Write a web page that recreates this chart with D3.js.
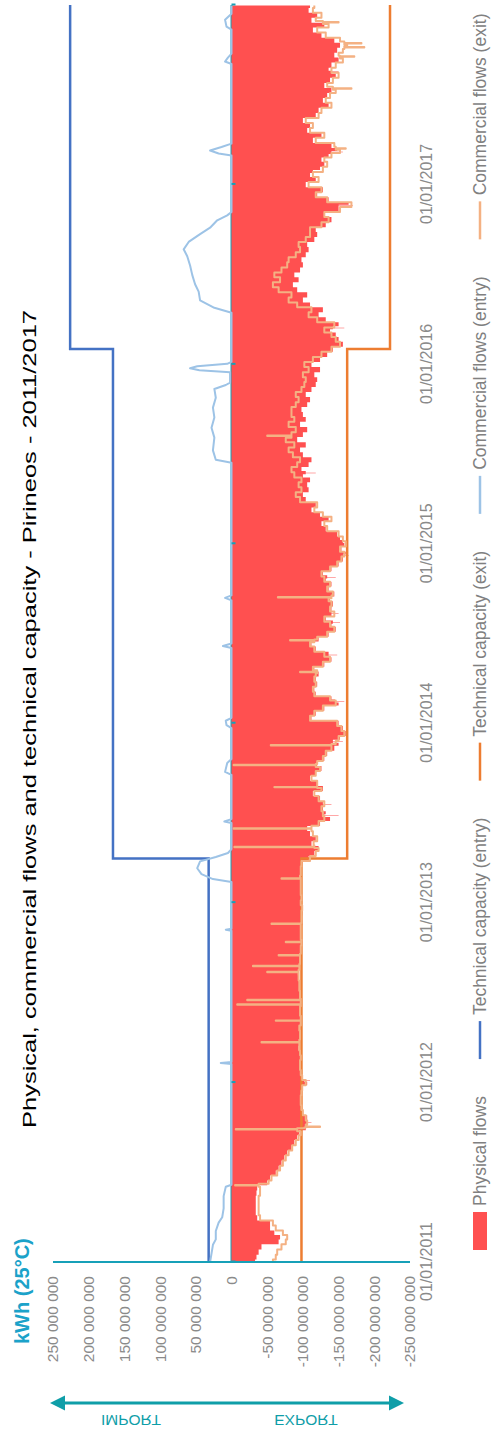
<!DOCTYPE html>
<html>
<head>
<meta charset="utf-8">
<script src="https://cdn.jsdelivr.net/npm/d3@7"></script>
<style>
  html, body { margin: 0; padding: 0; background: #ffffff; }
  svg { display: block; }
</style>
</head>
<body>
<svg id="chart" width="491" height="1434"></svg>
<script>
// Daily gas flows at the Pirineos interconnection, in millions of kWh (25 °C).
// Positive = import, negative = export. Regular samples are taken on the
// 1st, 11th and 21st of every month (three per month, 36 per year).
const years = [2011, 2012, 2013, 2014, 2015, 2016, 2017];
const sampleDays = [1, 11, 21];

const physical2011 = [-33,-35,-38, -42,-66,-68, -60,-54,-54, -36,-34,-34, -34,-34,-35, -36,-50,-54, -62,-66,-70, -74,-78,-84, -88,-92,-95, -104,-108,-106, -100,-97,-96, -96,-97,-98];
const physical2012 = [-106,-100,-98, -97,-96,-98, -96,-94,-95, -97,-96,-95, -98,-97,-96, -97,-98,-96, -96,-95,-96, -94,-93,-95, -96,-97,-98, -97,-99,-98, -98,-97,-99, -98,-99,-100];
const physical2013 = [-98,-99,-97, -97,-98,-96, -98,-97,-99, -108,-116,-122, -112,-118,-110, -106,-124,-138, -132,-128,-134, -124,-114,-128, -120,-110,-118, -126,-120,-130, -134,-144,-150, -152,-160,-156];
const physical2014 = [-150,-112,-118, -130,-150,-140, -118,-116,-120, -118,-122,-116, -130,-140,-132, -118,-112,-122, -136,-146,-140, -132,-146,-140, -142,-138,-144, -136,-140,-132, -128,-140,-150, -156,-160,-154];
const physical2015 = [-158,-152,-148, -132,-126,-136, -124,-112,-118, -104,-100,-108, -106,-110,-100, -98,-108,-112, -100,-96,-104, -92,-100,-106, -96,-104,-100, -98,-106,-110, -104,-112,-118, -120,-116,-124];
const physical2016 = [-112,-124,-134, -142,-156,-150, -146,-138,-150, -132,-122,-128, -110,-100,-106, -92,-86,-94, -88,-96,-100, -98,-104,-108, -106,-116,-120, -118,-132,-140, -130,-150,-164, -136,-120,-128];
const physical2017 = [-104,-118,-110, -124,-130,-126, -136,-148,-140, -114,-126,-106, -110,-100,-118, -122,-136,-128, -134,-140,-130, -138,-146,-136, -140,-150,-144, -148,-152,-144, -126,-114,-130, -112,-120,-108];
const physicalLast = -110; // 31/12/2017

// Single-day peaks of the physical flow (day, value, level around it)
const physSpikeDates  = ["2011-10-12","2012-01-05","2013-06-28","2013-07-20","2013-11-25","2014-02-14","2014-05-20","2014-07-25","2014-08-12","2014-10-25","2014-12-08","2015-01-05","2015-05-25","2016-03-15","2016-11-19","2017-01-28","2017-03-08","2017-08-18"];
const physSpikeValues = [-112,-110,-150,-140,-156,-158,-148,-152,-150,-146,-164,-162,-118,-158,-170,-128,-156,-150];
const physSpikeBase   = [-106,-102,-130,-128,-142,-145,-136,-142,-140,-134,-156,-156,-104,-142,-150,-114,-140,-140];

const exit2011 = [-58,-62,-64, -70,-76,-78, -72,-62,-58, -40,-38,-38, -38,-38,-40, -40,-52,-56, -64,-68,-72, -76,-80,-85, -90,-94,-97, -102,-106,-104, -100,-98,-97, -97,-98,-99];
const exit2012 = [-104,-99,-97, -96,-96,-97, -96,-95,-95, -96,-96,-95, -97,-97,-96, -96,-97,-96, -96,-95,-95, -94,-94,-95, -96,-96,-97, -97,-98,-97, -97,-97,-98, -98,-98,-99];
const exit2013 = [-97,-98,-97, -97,-97,-96, -97,-97,-98, -110,-118,-122, -115,-120,-114, -110,-122,-130, -128,-126,-130, -122,-116,-126, -120,-112,-118, -124,-120,-128, -132,-140,-146, -150,-158,-154];
const exit2014 = [-148,-110,-116, -128,-146,-138, -116,-114,-118, -116,-118,-114, -128,-138,-130, -116,-110,-120, -134,-144,-138, -130,-144,-138, -140,-136,-142, -134,-138,-130, -126,-138,-148, -154,-158,-152];
const exit2015 = [-160,-156,-150, -134,-130,-140, -128,-116,-120, -96,-90,-98, -94,-98,-88, -84,-92,-96, -86,-80,-88, -76,-84,-90, -80,-88,-84, -84,-90,-94, -90,-98,-102, -104,-100,-108];
const exit2016 = [-102,-114,-126, -140,-152,-146, -140,-130,-144, -120,-108,-112, -92,-80,-84, -66,-58,-68, -60,-70,-78, -80,-90,-96, -94,-104,-110, -110,-126,-136, -130,-152,-168, -134,-118,-126];
const exit2017 = [-108,-122,-114, -128,-134,-130, -140,-152,-144, -118,-130,-110, -114,-104,-122, -126,-140,-132, -138,-146,-134, -142,-150,-140, -146,-156,-150, -156,-162,-152, -132,-120,-136, -118,-126,-114];
const exitLast = -116; // 31/12/2017

// Single-day moves of the commercial exit nominations (day, value, level around it)
const exitSpikeDates  = ["2011-06-06","2011-09-28","2011-10-03","2012-03-23","2012-05-06","2012-06-08","2012-06-17","2012-08-13","2012-08-25","2012-09-16","2012-10-13","2012-11-19","2013-02-19","2013-04-24","2013-06-01","2013-08-24","2013-10-08","2013-11-17","2014-04-15","2014-06-19","2014-09-14","2015-08-09","2017-03-15","2017-07-15","2017-09-18","2017-10-07","2017-10-15","2017-11-27"];
const exitSpikeValues = [-5,-6,-124,-42,-62,-8,-22,-50,-30,-66,-76,-56,-70,-4,-3,-60,-3,-55,-96,-82,-65,-50,-160,-168,-172,-186,-182,-150];
const exitSpikeBase   = [-38,-92,-104,-95,-97,-97,-97,-94,-95,-96,-98,-97,-97,-116,-112,-120,-118,-140,-120,-116,-140,-84,-146,-142,-152,-158,-158,-128];

// Commercial entry nominations (change points)
const entryDates = [
  "2011-01-01","2011-01-18","2011-02-05","2011-02-16","2011-03-05","2011-03-22","2011-04-02","2011-04-20","2011-05-15","2011-06-03","2011-06-07",
  "2012-02-08","2012-02-10","2012-02-12","2012-11-05","2012-11-07","2012-11-09",
  "2013-02-12","2013-02-18","2013-02-28","2013-03-12","2013-03-26","2013-04-04","2013-04-12","2013-04-20",
  "2013-06-12","2013-06-15","2013-06-20","2013-09-18","2013-09-24","2013-10-12","2013-10-20",
  "2013-12-22","2013-12-28","2014-01-06","2014-01-12","2014-06-03","2014-06-07","2014-06-12",
  "2014-09-08","2014-09-13","2014-09-18",
  "2015-06-15","2015-06-21","2015-07-10","2015-08-05","2015-08-25","2015-09-15","2015-10-05","2015-10-25","2015-11-12","2015-11-20","2015-11-25",
  "2015-12-16","2015-12-20","2015-12-24","2015-12-28","2016-01-02","2016-01-06",
  "2016-04-15","2016-04-25","2016-05-10","2016-05-28","2016-06-12","2016-07-01","2016-07-20","2016-08-08","2016-08-22","2016-09-06","2016-09-22","2016-10-05","2016-10-20","2016-10-30","2016-11-06",
  "2017-03-01","2017-03-05","2017-03-11","2017-03-18","2017-03-25",
  "2017-09-03","2017-09-08","2017-09-16","2017-09-24","2017-11-12","2017-11-18","2017-12-02","2017-12-14","2017-12-31"
];
const entryValues = [
  30,28,26,22,22,18,13,11,11,8,0,
  0,15,0,0,8,0,
  0,26,42,48,44,22,5,0,
  0,10,0,0,9,6,0,
  0,7,8,0,0,12,0,
  0,9,0,
  0,22,26,24,28,24,26,22,24,8,2,
  2,45,58,48,6,0,
  0,24,44,46,51,55,58,62,67,60,44,30,20,6,0,
  0,18,30,14,0,
  0,9,5,0,0,7,9,0,0
];

// Technical (firm) capacity, stepwise
const capacityDates = ["2011-01-01", "2013-04-01", "2016-02-01"];
const capacityEntry = [32, 166, 226];
const capacityExit  = [-98, -162, -222];

const valueTicks = [250, 200, 150, 100, 50, 0, -50, -100, -150, -200, -250];
const yearTicks = ["2011-01-01","2012-01-01","2013-01-01","2014-01-01","2015-01-01","2016-01-01","2017-01-01","2018-01-01"];
const dateLabels = ["2011-01-01","2012-01-01","2013-01-01","2014-01-01","2015-01-01","2016-01-01","2017-01-01"];

const legendLabels = ["Physical flows", "Technical capacity (entry)", "Technical capacity (exit)", "Commercial flows (entry)", "Commercial flows (exit)"];
const colors = {
  physical: "#ff5050",
  capEntry: "#4472c4",
  capExit: "#ed7d31",
  comEntry: "#9dc3e6",
  comExit: "#f4b183",
  axis: "#17a0b8",
  unit: "#1ba2c9",
  arrow: "#0f9ea8",
  label: "#8a8a8a"
};
const FONT = "'Liberation Sans', Arial, Helvetica, sans-serif";
const NARROW = "'Liberation Sans Narrow', 'Arial Narrow', 'Liberation Sans', Arial, sans-serif";

// ---------------------------------------------------------------------------
const parse = d3.utcParse("%Y-%m-%d");
const M = 1e6;

function regularSeries(yearArrays, lastValue) {
  const pts = [];
  years.forEach((yr, i) => {
    yearArrays[i].forEach((v, k) => {
      pts.push({ date: new Date(Date.UTC(yr, Math.floor(k / 3), sampleDays[k % 3])), value: v * M });
    });
  });
  pts.push({ date: parse("2017-12-31"), value: lastValue * M });
  return pts;
}

// Insert one-day moves into a regular series
function withSpikes(pts, dates, values, base) {
  const days = dates.map(parse);
  const out = pts.filter(p => !days.some(s => Math.abs(p.date - s) <= 864e5 * 1.5));
  days.forEach((d, i) => {
    out.push({ date: d3.utcDay.offset(d, -1), value: base[i] * M });
    out.push({ date: d, value: values[i] * M });
    out.push({ date: d3.utcDay.offset(d, 1), value: base[i] * M });
  });
  return out.sort((a, b) => a.date - b.date);
}

const physicalData = withSpikes(
  regularSeries([physical2011, physical2012, physical2013, physical2014, physical2015, physical2016, physical2017], physicalLast),
  physSpikeDates, physSpikeValues, physSpikeBase);

const exitData = withSpikes(
  regularSeries([exit2011, exit2012, exit2013, exit2014, exit2015, exit2016, exit2017], exitLast),
  exitSpikeDates, exitSpikeValues, exitSpikeBase);

const entryData = entryDates.map((d, i) => ({ date: parse(d), value: entryValues[i] * M }));

const endDate = parse("2018-01-01");
function stepData(values) {
  const pts = capacityDates.map((d, i) => ({ date: parse(d), value: values[i] * M }));
  pts.push({ date: endDate, value: values[values.length - 1] * M });
  return pts;
}

// ---------------------------------------------------------------------------
// The chart is laid out landscape (W x H) and turned a quarter turn
// counter-clockwise to fit the portrait page.
const W = 1434, H = 491;
const svg = d3.select("#chart");
const g = svg.append("g").attr("transform", `translate(0,${W}) rotate(-90)`);

const plotLeft = 172, plotRight = 1429;
const x = d3.scaleUtc().domain([parse("2011-01-01"), endDate]).range([plotLeft, plotRight]);
const y = d3.scaleLinear().domain([250 * M, -250 * M]).range([53, 410]);

const locale = d3.formatLocale({ decimal: ",", thousands: " ", grouping: [3], currency: ["", " €"], minus: "-" });
const fmtValue = locale.format(",.0f");
const fmtDate = d3.utcFormat("%d/%m/%Y");

// Title
g.append("text")
  .attr("x", 715).attr("y", 36)
  .attr("text-anchor", "middle")
  .attr("font-family", NARROW)
  .attr("font-size", 19)
  .attr("fill", "#000")
  .attr("textLength", 818)
  .attr("lengthAdjust", "spacingAndGlyphs")
  .text("Physical, commercial flows and technical capacity - Pirineos - 2011/2017");

// Unit
g.append("text")
  .attr("x", 90).attr("y", 29)
  .attr("font-family", FONT)
  .attr("font-weight", "bold")
  .attr("font-size", 20)
  .attr("fill", colors.unit)
  .text("kWh (25°C)");

// Zero line (date axis)
g.append("line")
  .attr("x1", plotLeft).attr("x2", plotRight)
  .attr("y1", y(0)).attr("y2", y(0))
  .attr("stroke", colors.axis).attr("stroke-width", 2);

// Physical flows area (held from one reading to the next, like daily data)
const area = d3.area()
  .x(d => x(d.date))
  .y0(y(0))
  .y1(d => y(d.value))
  .curve(d3.curveStep);
g.append("path")
  .datum(physicalData)
  .attr("d", area)
  .attr("fill", colors.physical);

// Technical capacity lines
const stepLine = d3.line().x(d => x(d.date)).y(d => y(d.value)).curve(d3.curveStepAfter);
g.append("path").datum(stepData(capacityEntry)).attr("d", stepLine)
  .attr("fill", "none").attr("stroke", colors.capEntry).attr("stroke-width", 2.5);
g.append("path").datum(stepData(capacityExit)).attr("d", stepLine)
  .attr("fill", "none").attr("stroke", colors.capExit).attr("stroke-width", 2.5);

// Commercial flows
const heldLine = d3.line().x(d => x(d.date)).y(d => y(d.value)).curve(d3.curveStep);
const line = d3.line().x(d => x(d.date)).y(d => y(d.value));
g.append("path").datum(exitData).attr("d", heldLine)
  .attr("fill", "none").attr("stroke", colors.comExit).attr("stroke-width", 2)
  .attr("stroke-linejoin", "round");
g.append("path").datum(entryData).attr("d", line)
  .attr("fill", "none").attr("stroke", colors.comEntry).attr("stroke-width", 2)
  .attr("stroke-linejoin", "round");

// Year tick marks on the zero line
const tickAxis = d3.axisBottom(x).tickValues(yearTicks.map(parse)).tickSize(4).tickFormat("");
const ta = g.append("g").attr("transform", `translate(0,${y(0)})`).call(tickAxis);
ta.select(".domain").remove();
ta.selectAll(".tick line").attr("stroke", colors.axis).attr("stroke-width", 2);

// Date labels
const labelAxis = d3.axisBottom(x).tickValues(dateLabels.map(parse)).tickSize(0).tickPadding(0).tickFormat(fmtDate);
const la = g.append("g").attr("transform", "translate(0,421)").call(labelAxis);
la.select(".domain").remove();
la.selectAll("text")
  .attr("dy", "0.71em")
  .attr("font-family", FONT).attr("font-size", 16).attr("fill", colors.label);

// Value axis
const valueAxis = d3.axisLeft(y).tickValues(valueTicks.map(v => v * M)).tickSize(0).tickPadding(14).tickFormat(fmtValue);
const va = g.append("g").attr("transform", `translate(${plotLeft},0)`).call(valueAxis);
va.select(".domain").remove();
va.selectAll("text").attr("font-family", FONT).attr("font-size", 15.5).attr("fill", colors.label);
g.append("line")
  .attr("x1", plotLeft).attr("x2", plotLeft)
  .attr("y1", y(250 * M)).attr("y2", y(-250 * M))
  .attr("stroke", colors.axis).attr("stroke-width", 2);

// Import / export arrow
const arrowX = 31;
g.append("line")
  .attr("x1", arrowX).attr("x2", arrowX)
  .attr("y1", 62).attr("y2", 392)
  .attr("stroke", colors.arrow).attr("stroke-width", 3);
g.append("path")
  .attr("d", `M${arrowX},50 L${arrowX - 7.5},65 L${arrowX + 7.5},65 Z`)
  .attr("fill", colors.arrow);
g.append("path")
  .attr("d", `M${arrowX},404 L${arrowX - 7.5},389 L${arrowX + 7.5},389 Z`)
  .attr("fill", colors.arrow);

// Arrow captions (set upside down under the arrow, on the page itself)
[["IMPORT", 131], ["EXPORT", 306]].forEach(([t, px]) => {
  svg.append("text")
    .attr("transform", `translate(${px},1421) scale(1,-1)`)
    .attr("text-anchor", "middle")
    .attr("dy", "0.36em")
    .attr("font-family", FONT).attr("font-size", 15.5)
    .attr("fill", colors.arrow)
    .text(t);
});

// Legend: swatch, label, then a fixed gap before the next entry
const legendY = 480;
const legendStart = 184, swatchLen = 38, swatchGap = 6, itemGap = 37;
const legend = g.append("g").attr("font-family", FONT).attr("font-size", 17.5).attr("fill", "#808080");
const legendKinds = [
  { type: "box", color: colors.physical },
  { type: "line", color: colors.capEntry },
  { type: "line", color: colors.capExit },
  { type: "line", color: colors.comEntry },
  { type: "line", color: colors.comExit }
];
let cursor = legendStart;
legendKinds.forEach((it, i) => {
  if (it.type === "box") {
    legend.append("rect").attr("x", cursor).attr("y", legendY - 7).attr("width", swatchLen).attr("height", 14).attr("fill", it.color);
  } else {
    legend.append("line").attr("x1", cursor).attr("x2", cursor + swatchLen)
      .attr("y1", legendY).attr("y2", legendY)
      .attr("stroke", it.color).attr("stroke-width", 2.5);
  }
  const t = legend.append("text")
    .attr("x", cursor + swatchLen + swatchGap).attr("y", legendY).attr("dy", "0.35em")
    .text(legendLabels[i]);
  cursor += swatchLen + swatchGap + t.node().getComputedTextLength() + itemGap;
});
</script>
</body>
</html>
